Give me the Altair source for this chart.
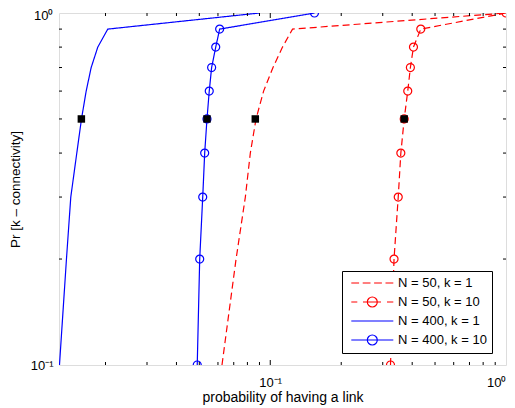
import altair as alt
import pandas as pd

# ---- data ----
y_levels = [0.1, 0.2, 0.3, 0.4, 0.5, 0.6, 0.7, 0.8, 0.9, 1.0]
n50_k1_x = [0.0624, 0.0716, 0.0784, 0.0823, 0.0870, 0.0937, 0.1027, 0.1127, 0.1243, 1.0]
n50_k10_x = [0.3236, 0.335, 0.349, 0.358, 0.370, 0.383, 0.393, 0.405, 0.435, 1.0]
n400_k1_x = [0.01276, 0.01366, 0.01425, 0.01511, 0.01582, 0.01656, 0.01739, 0.01855, 0.02045, 0.090]
n400_k10_x = [0.0490, 0.0502, 0.0517, 0.0527, 0.0539, 0.0551, 0.0564, 0.0587, 0.0610, 0.154]

series_names = ["N = 50, k = 1", "N = 50, k = 10", "N = 400, k = 1", "N = 400, k = 10"]
series_x = [n50_k1_x, n50_k10_x, n400_k1_x, n400_k10_x]
series_style = ["dashed", "dashed", "solid", "solid"]
series_colors = ["#ff0000", "#ff0000", "#0000ff", "#0000ff"]
style_names = ["dashed", "solid"]
style_dash = [[7, 4], [1, 0]]
marker_series = ["N = 50, k = 10", "N = 400, k = 10"]

median_x = [0.0158, 0.0539, 0.0864, 0.370]
median_y = [0.5, 0.5, 0.5, 0.5]

x_label_values = [0.1, 1.0]
y_label_values = [0.1, 1.0]
x_major_ticks = [0.1]
x_minor_ticks = [0.02, 0.03, 0.04, 0.05, 0.06, 0.07, 0.08, 0.09,
                 0.2, 0.3, 0.4, 0.5, 0.6, 0.7, 0.8, 0.9]
y_minor_ticks = [0.2, 0.3, 0.4, 0.5, 0.6, 0.7, 0.8, 0.9]

# legend symbol paths (1 unit = 6 px at symbolSize 144); line spans 42 px
c = 3.05
circ = (f"M{c+0.83},0 A0.83,0.83 0 1,1 {c-0.83},0 A0.83,0.83 0 1,1 {c+0.83},0")
legend_paths = [
    "M-0.45,0H0.85M1.45,0H2.75M3.35,0H4.65M5.25,0H6.55",
    "M-0.45,0H0.55M1.5,0H4.5M5.5,0H6.55" + circ,
    "M-0.45,0H6.55",
    "M-0.45,0H6.55" + circ,
]

W, H = 447, 352
FONT = "Liberation Sans"

rows = []
for name, st, xs in zip(series_names, series_style, series_x):
    for i, (xv, yv) in enumerate(zip(xs, y_levels)):
        rows.append({"series": name, "style": st, "x": xv, "y": yv, "i": i})
df = pd.DataFrame(rows)
df_markers = df[df["series"].isin(marker_series)]
df_med = pd.DataFrame({"x": median_x, "y": median_y})

xscale = alt.Scale(type="log", domain=[0.0127, 1.0], nice=False)
yscale = alt.Scale(type="log", domain=[0.1, 1.0], nice=False)
cscale = alt.Scale(domain=series_names, range=series_colors)
dscale = alt.Scale(domain=style_names, range=style_dash)
sscale = alt.Scale(domain=series_names, range=legend_paths)

label_expr = "datum.value >= 0.99 ? '10\u2070' : '10\u207b\u00b9'"

x_axis = alt.Axis(values=x_label_values, labelExpr=label_expr, title="probability of having a link",
                  ticks=False, domain=False, grid=False, labelFlush=True, labelPadding=11,
                  labelFont=FONT, labelFontSize=13, labelColor="black",
                  titleFont=FONT, titleFontSize=14, titleFontWeight="normal", titleColor="black",
                  titlePadding=1)
y_axis = alt.Axis(values=y_label_values, labelExpr=label_expr, title="Pr [k \u2013 connectivity]",
                  ticks=False, domain=False, grid=False, labelPadding=6,
                  labelOffset={"condition": {"test": "datum.value >= 0.99", "value": 2.5}, "value": 0},
                  labelFont=FONT, labelFontSize=13, labelColor="black",
                  titleFont=FONT, titleFontSize=13.5, titleFontWeight="normal", titleColor="black",
                  titlePadding=8)

X = lambda f="x": alt.X(f"{f}:Q", scale=xscale, axis=x_axis, title="probability of having a link")
Y = lambda f="y": alt.Y(f"{f}:Q", scale=yscale, axis=y_axis, title="Pr [k \u2013 connectivity]")

lines = alt.Chart(df).mark_line(strokeWidth=1.2, clip=True).encode(
    x=X(), y=Y(),
    color=alt.Color("series:N", scale=cscale),
    strokeDash=alt.StrokeDash("style:N", scale=dscale, legend=None),
    order=alt.Order("i:Q"),
)

circles = alt.Chart(df_markers).mark_point(shape="circle", filled=False, size=64, strokeWidth=1.2,
                                           opacity=1, clip=True).encode(
    x=X(), y=Y(),
    color=alt.Color("series:N", scale=cscale),
)

legend_layer = alt.Chart(df).mark_point(filled=False, strokeWidth=1.2, opacity=1).encode(
    x=X(), y=Y(),
    color=alt.Color("series:N", scale=cscale,
                    legend=alt.Legend(title=None, orient="none", legendX=283, legendY=258,
                                      symbolSize=144, symbolStrokeWidth=1.2,
                                      labelFont=FONT, labelFontSize=13, labelColor="black",
                                      labelOffset=37, rowPadding=4, padding=5,
                                      strokeColor="black", fillColor="white")),
    shape=alt.Shape("series:N", scale=sscale),
).transform_filter("datum.y < 0")

medians = alt.Chart(df_med).mark_square(filled=True, size=56, color="black", opacity=1).encode(
    x=X(), y=Y(),
)

df_xmin = pd.DataFrame({"x": x_minor_ticks})
df_xmaj = pd.DataFrame({"x": x_major_ticks})
df_ymin = pd.DataFrame({"y": y_minor_ticks})

def xticks(d, ln):
    bottom = alt.Chart(d).mark_rule(color="black", strokeWidth=1).encode(
        x=X(), y=alt.value(H), y2=alt.value(H - ln))
    top = alt.Chart(d).mark_rule(color="black", strokeWidth=1).encode(
        x=X(), y=alt.value(0), y2=alt.value(ln))
    return [bottom, top]

def yticks(d, ln):
    left = alt.Chart(d).mark_rule(color="black", strokeWidth=1).encode(
        y=Y(), x=alt.value(0), x2=alt.value(ln))
    right = alt.Chart(d).mark_rule(color="black", strokeWidth=1).encode(
        y=Y(), x=alt.value(W), x2=alt.value(W - ln))
    return [left, right]

tick_layers = xticks(df_xmin, 3) + xticks(df_xmaj, 5) + yticks(df_ymin, 3)

chart = alt.layer(lines, circles, legend_layer, medians, *tick_layers).properties(
    width=W, height=H,
    autosize=alt.AutoSizeParams(type="none"),
    padding={"left": 51, "top": 5, "right": 1, "bottom": 43},
).configure_view(stroke="black", strokeWidth=1.2).configure(background="white")

chart.save("out.html", embed_options={"renderer": "svg", "actions": False})
